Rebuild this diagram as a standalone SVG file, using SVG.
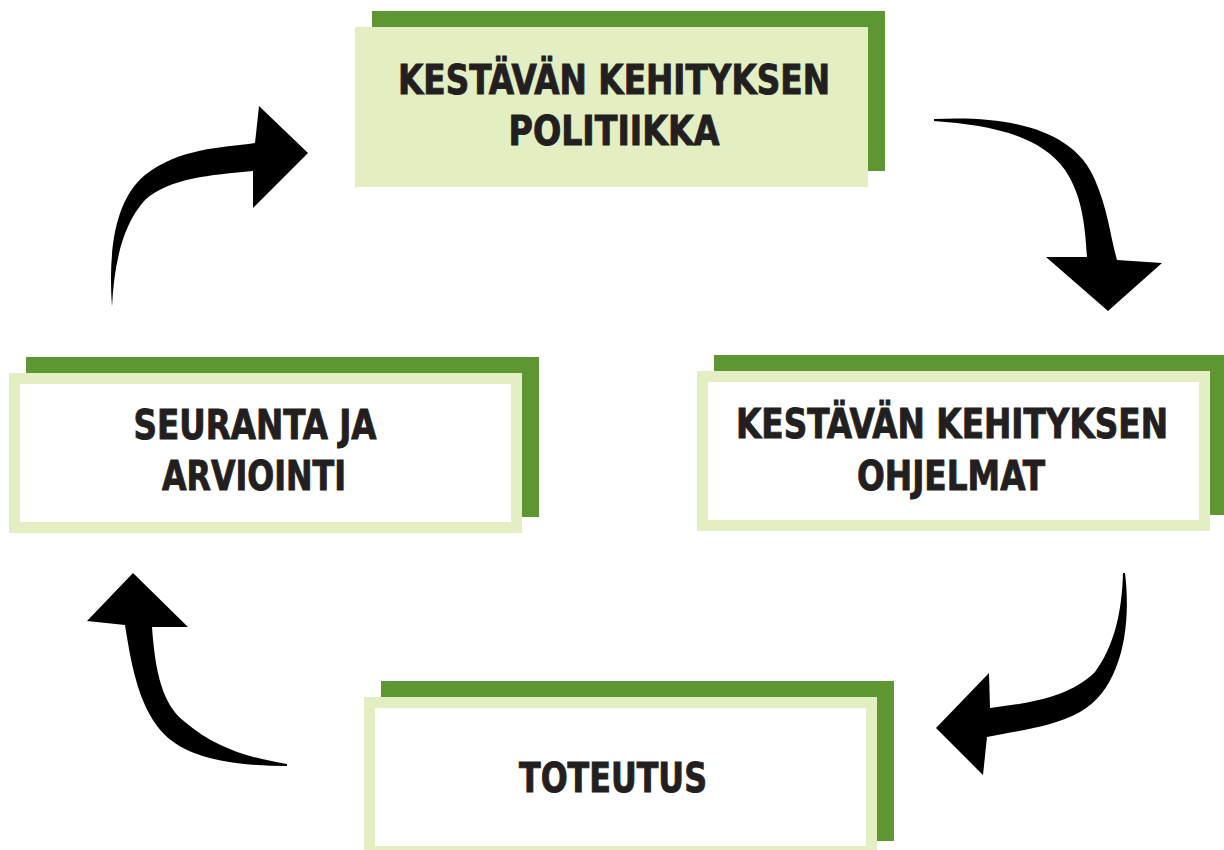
<svg xmlns="http://www.w3.org/2000/svg" width="1224" height="850" viewBox="0 0 1224 850">
  <style>
    .back { fill: #5E9732; }
    .front-filled { fill: #E4EEC3; }
    .front { fill: #FFFFFF; stroke: #E4EEC3; stroke-width: 11; }
    .label { font-family: "DejaVu Sans Condensed", "DejaVu Sans", "Liberation Sans", sans-serif; font-stretch: condensed; font-weight: bold; font-size: 40px; fill: #231F20; stroke: #231F20; stroke-width: 0.9; text-anchor: middle; }
    .arrow { fill: #000000; }
  </style>
  <rect width="1224" height="850" fill="#FFFFFF"/>

  <g id="node-politiikka">
    <rect class="back" x="372" y="11" width="513" height="160"/>
    <rect class="front-filled" x="355" y="27" width="513" height="160"/>
    <text class="label" x="614" y="94" textLength="432" lengthAdjust="spacingAndGlyphs">KESTÄVÄN KEHITYKSEN</text>
    <text class="label" x="614" y="145" textLength="211" lengthAdjust="spacingAndGlyphs">POLITIIKKA</text>
  </g>

  <g id="node-ohjelmat">
    <rect class="back" x="714" y="355" width="513" height="160"/>
    <rect class="front" x="702.5" y="376.5" width="502" height="149"/>
    <text class="label" x="952" y="438" textLength="432" lengthAdjust="spacingAndGlyphs">KESTÄVÄN KEHITYKSEN</text>
    <text class="label" x="951" y="490" textLength="188" lengthAdjust="spacingAndGlyphs">OHJELMAT</text>
  </g>

  <g id="node-toteutus">
    <rect class="back" x="381" y="681" width="513" height="160"/>
    <rect class="front" x="369.5" y="702.5" width="502" height="149"/>
    <text class="label" x="613" y="792" textLength="188" lengthAdjust="spacingAndGlyphs">TOTEUTUS</text>
  </g>

  <g id="node-seuranta">
    <rect class="back" x="26" y="357" width="513" height="160"/>
    <rect class="front" x="14.5" y="378.5" width="502" height="149"/>
    <text class="label" x="255" y="439" textLength="243" lengthAdjust="spacingAndGlyphs">SEURANTA JA</text>
    <text class="label" x="254" y="490" textLength="184" lengthAdjust="spacingAndGlyphs">ARVIOINTI</text>
  </g>

  <g id="connectors">
    <path class="arrow" d="M934,119 C1010,115 1075,130 1095,180 C1108,210 1110,235 1117,260 L1162,263 L1108,311 L1046,257 L1087,257 C1085,225 1082,195 1065,170 C1040,135 990,125 934,121 Z"/>
    <path class="arrow" d="M1125,573 C1132,630 1120,690 1080,712 C1050,728 1020,730 987,737 L983,775 L936,728 L989,673 L990,708 C1030,703 1070,697 1095,672 C1115,645 1122,610 1123,573 Z"/>
    <path class="arrow" d="M287,766 C240,766 190,760 165,735 C140,710 132,670 125,625 L87,621 L133,573 L188,627 L152,627 C155,670 162,705 185,722 C215,748 250,758 287,764 Z"/>
    <path class="arrow" d="M112,307 C108,250 115,200 145,175 C180,148 220,148 255,143 L259,106 L308,153 L253,208 L253,171 C210,175 170,178 145,200 C122,225 114,265 112,307 Z"/>
  </g>
</svg>
